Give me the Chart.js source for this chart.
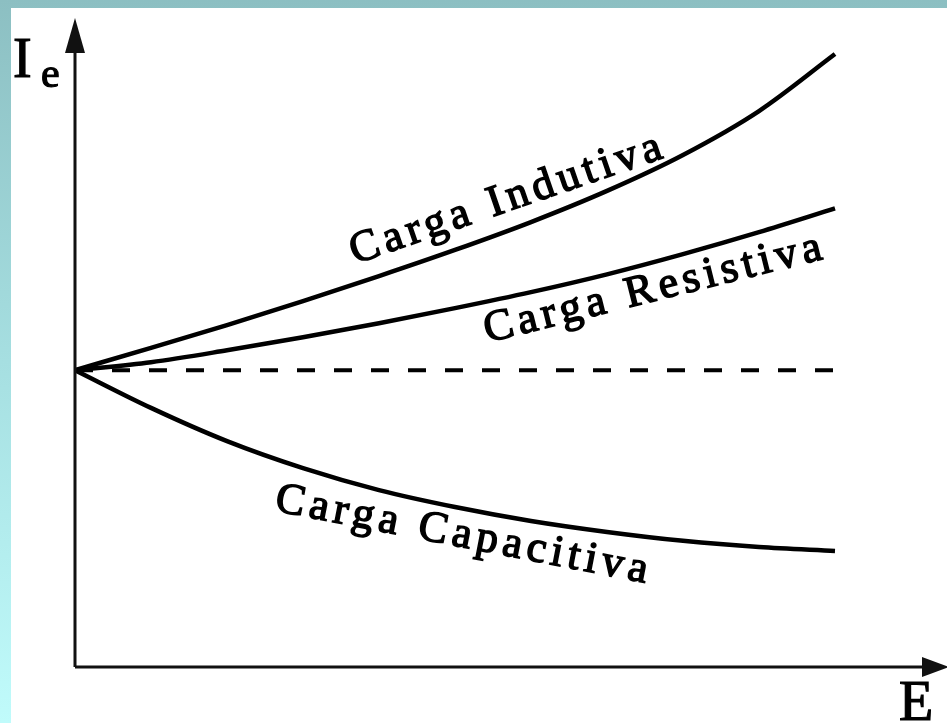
<!DOCTYPE html>
<html>
<head>
<meta charset="utf-8">
<script src="https://cdn.jsdelivr.net/npm/chart.js@4"></script>
<style>
  html, body { margin:0; padding:0; }
  body { width:947px; height:723px; overflow:hidden; position:relative;
         background: linear-gradient(180deg, #8cbfc2 0%, #a6dfe1 50%, #c0fbfb 100%); }
  #paper { position:absolute; left:11px; top:8px; right:0; bottom:0; background:#fff; }
  #chart { position:absolute; left:0; top:0; }
</style>
</head>
<body>
<div id="paper"></div>
<canvas id="chart" width="947" height="723"></canvas>
<script>
// ── Dados (E normalizado 0..10, Ie relativo à corrente em vazio = 1) ──
const E          = ['0','1','2','3','4','5','6','7','8','9','10'];
const indutiva   = [1.000,1.075,1.152,1.233,1.317,1.405,1.499,1.604,1.725,1.873,2.065];
const resistiva  = [1.000,1.027,1.067,1.111,1.158,1.209,1.263,1.323,1.391,1.465,1.545];
const capacitiva = [1.000,0.873,0.761,0.670,0.596,0.539,0.492,0.455,0.425,0.404,0.391];
const referencia = [1,1,1,1,1,1,1,1,1,1,1];

const serif = '"Liberation Serif", "DejaVu Serif", serif';

// eixos com setas + rótulos inclinados
const annotations = {
    id: 'annotations',
    afterDraw(chart) {
        const ctx = chart.ctx;
        const a = chart.chartArea;
        ctx.save();
        ctx.strokeStyle = '#111';
        ctx.fillStyle = '#111';
        ctx.lineWidth = 3;
        // eixo Ie
        ctx.beginPath(); ctx.moveTo(a.left, a.bottom); ctx.lineTo(a.left, 40); ctx.stroke();
        ctx.beginPath(); ctx.moveTo(a.left, 18); ctx.lineTo(a.left + 10, 53); ctx.lineTo(a.left - 10, 53); ctx.closePath(); ctx.fill();
        // eixo E
        ctx.beginPath(); ctx.moveTo(a.left, a.bottom); ctx.lineTo(930, a.bottom); ctx.stroke();
        ctx.beginPath(); ctx.moveTo(949, a.bottom); ctx.lineTo(922, a.bottom - 10); ctx.lineTo(922, a.bottom + 10); ctx.closePath(); ctx.fill();

        // títulos dos eixos
        const txt = (s, x, y, size) => {
            ctx.font = size + 'px ' + serif;
            ctx.fillStyle = '#000';
            ctx.strokeStyle = '#000';
            ctx.lineWidth = 1.2;
            ctx.fillText(s, x, y);
            ctx.strokeText(s, x, y);
        };
        txt('I', 13, 77, 56);
        txt('e', 41, 87, 42);
        txt('E', 899, 720, 56);

        // rótulos das curvas
        const label = (s, x, y, deg) => {
            ctx.save();
            ctx.translate(x, y);
            ctx.rotate(deg * Math.PI / 180);
            ctx.font = '44px ' + serif;
            ctx.letterSpacing = '5px';
            ctx.textAlign = 'center';
            ctx.textBaseline = 'alphabetic';
            ctx.lineWidth = 1.5;
            ctx.strokeStyle = '#000';
            ctx.fillStyle = '#000';
            ctx.fillText(s, 0, 0);
            ctx.strokeText(s, 0, 0);
            ctx.restore();
        };
        label('Carga Indutiva', 512, 210, -19);
        label('Carga Resistiva', 658, 300, -14);
        label('Carga Capacitiva', 462, 547, 11);
        ctx.restore();
    }
};

const line = (data, extra) => Object.assign({
    data, borderColor:'#000', borderWidth:4.5, pointRadius:0,
    cubicInterpolationMode:'monotone', fill:false
}, extra || {});

new Chart(document.getElementById('chart'), {
    type: 'line',
    data: {
        labels: E,
        datasets: [
            line(indutiva,   { label:'Carga Indutiva' }),
            line(resistiva,  { label:'Carga Resistiva' }),
            line(capacitiva, { label:'Carga Capacitiva' }),
            line(referencia, { label:'Referência', borderDash:[18,19], borderWidth:4 }),
        ]
    },
    options: {
        responsive:false, animation:false,
        layout:{ padding:{ left:75, right:112, top:14, bottom:56 } },
        plugins:{ legend:{ display:false }, tooltip:{ enabled:false } },
        scales:{
            x:{ display:false },
            y:{ display:false, min:0, max:2.2 }
        }
    },
    plugins:[annotations]
});
</script>
</body>
</html>
